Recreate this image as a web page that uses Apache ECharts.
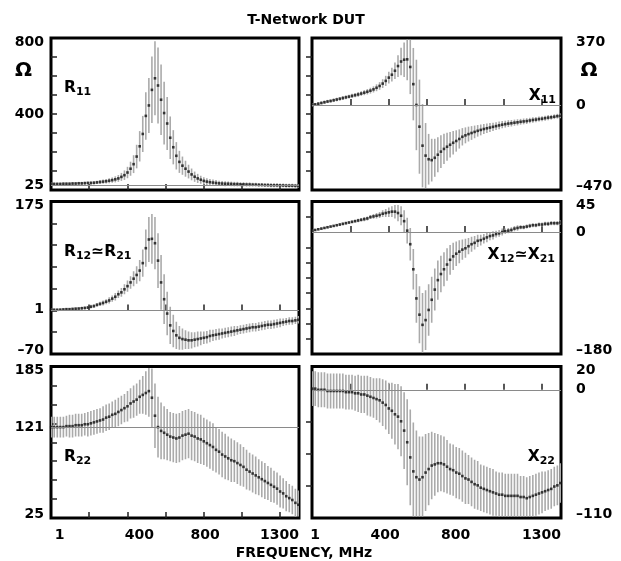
<!DOCTYPE html>
<html><head><meta charset="utf-8">
<script src="https://cdn.jsdelivr.net/npm/echarts@6/dist/echarts.min.js"></script>
<style>html,body{margin:0;padding:0;background:#fff}#c{width:621px;height:561px}</style>
</head><body><div id="c"></div>
<script>
// ---------------- data ----------------
const freqMHz = [1,17,33,49,65,81,97,113,129,145,161,177,193,209,225,241,257,273,289,305,321,337,353,369,385,401,417,433,449,465,481,497,513,529,545,561,577,593,609,625,641,657,673,689,705,721,737,753,769,785,801,817,833,849,865,881,897,913,929,945,961,977,993,1009,1025,1041,1057,1073,1089,1105,1121,1137,1153,1169,1185,1201,1217,1233,1249,1265,1281,1297];

const r11 = [32,32,32,32,33,33,33,34,34,35, 35,36,37,37,38,40,42,44,46,49, 52,56,61,69,78,92,112,136,176,230, 295,390,445,527,588,550,475,405,350,275, 225,180,148,128,112,97,82,70,61,54, 48,44,41,39,37,35,34,33,33,32, 31,31,30,30,29,29,28,28,27,27, 26,26,25,25,25,24,24,23,23,23, 22,22];
const r11Err = [7,7,7,7,7,7,7,8,8,8, 8,8,8,9,9,9,10,11,12,13, 14,16,18,21,25,30,37,47,62,80, 95,125,145,175,195,200,185,165,140,112, 90,72,58,48,42,36,31,27,24,21, 19,18,17,16,15,14,13,13,12,12, 12,12,11,11,11,11,10,10,10,10, 10,10,10,10,10,10,10,10,10,10, 10,10];

const x11 = [0,3,7,11,15,19,22,26,30,34, 38,42,46,50,54,58,63,68,73,79, 86,95,105,118,133,151,167,189,215,240, 250,252,210,115,0,-120,-225,-280,-300,-305, -292,-275,-258,-243,-231,-220,-209,-199,-188,-176, -168,-161,-155,-149,-143,-138,-133,-129,-125,-121, -117,-113,-109,-106,-103,-101,-98,-96,-93,-91, -89,-86,-83,-81,-78,-76,-73,-70,-68,-65, -62,-60];
const x11Err = [8,8,8,8,9,9,9,10,10,10, 11,11,11,12,12,13,13,14,15,16, 17,19,21,24,28,32,38,46,60,76, 95,115,150,200,250,260,230,180,140,118, 105,97,90,84,78,71,65,59,53,48, 44,41,38,35,32,30,28,26,25,23, 22,21,20,19,19,18,17,17,16,16, 16,15,15,15,14,14,14,14,13,13, 13,13];

const r12 = [1,1,1,1.2,1.6,2,2,2.4,2.8,3, 3.5,4,4.6,6,7,9,10.5,12,14,16, 19,22,26,29,34,39,45,51,57,64, 76,100,114,115,108,80,45,18,-5,-24, -33,-40,-44,-46,-47,-48,-48,-47,-46,-45, -44,-43,-41,-40,-39,-38,-37,-36,-35,-34, -33,-32,-31,-30,-29,-28,-27,-27,-26,-25, -24,-23,-23,-22,-21,-20,-19,-18,-17,-17, -16,-15];
const r12Err = [2,2,2,2,2,2,2,2,2,2, 2.5,2.5,2.5,3,3,3,3.5,4,4,5, 5,6,6,7,8,9,10,12,14,17, 22,30,36,40,42,44,44,40,35,30, 26,22,19,17,15,14,13,12,12,11, 10,10,10,9,9,9,8,8,8,8, 8,7,7,7,7,7,7,7,7,7, 7,7,7,7,7,7,6,6,6,6, 6,6];

const x12 = [2,3,4,5,6,7,8,9,10,11, 12,13,14,15,16,17,18,19,20,22, 23,24,25,27,28,29,30,30,28,24, 16,2,-18,-55,-98,-122,-137,-130,-115,-100, -85,-71,-62,-55,-48,-41,-36,-32,-29,-26, -24,-21,-18,-16,-13,-12,-10,-8,-6,-5, -3,-2,0,1,2,3,5,6,7,7, 8,9,10,10,11,11,12,12,13,13, 13,14];
const x12Err = [1.5,1.5,1.5,1.5,1.5,1.5,1.5,1.5,1.5,2, 2,2,2,2,2,2.5,2.5,3,3,3, 3.5,4,4.5,5,6,7,8,10,12,14, 16,19,24,30,36,42,47,44,38,34, 31,29,27,25,24,22,20,18,17,15, 14,12,11,10,9,8,7,7,6,6, 5,5,5,4,4,4,4,4,3,3, 3,3,3,3,3,3,3,3,3,3, 3,3];

const r22 = [121,121,121,121,121,122,122,122,123,123, 123,124,124,125,126,127,128,129,131,132, 134,135,137,139,141,143,146,148,150,153, 155,157,159,152,133,121,117,115,113,111, 110,109,110,112,113,114,112,111,109,108, 106,104,102,100,97,95,92,90,88,86, 85,83,81,79,76,74,72,70,68,66, 64,62,60,58,56,53,51,48,46,44, 41,39];
const r22Err = [11,11,11,11,11,11,12,12,12,12, 12,12,13,13,13,13,13,14,14,14, 14,15,15,15,15,16,16,17,17,18, 20,23,27,31,34,32,30,28,27,26, 26,26,26,26,26,26,26,26,26,26, 25,25,25,25,24,24,24,24,23,23, 22,22,22,21,21,20,20,20,19,19, 19,18,18,17,17,17,16,16,15,15, 15,15];

const x22 = [1,1,0,0,0,-1,-1,-1,-1,-1, -1,-2,-2,-2,-3,-3,-4,-4,-5,-6, -7,-8,-9,-11,-13,-16,-18,-21,-23,-27, -35,-45,-58,-70,-75,-77,-75,-71,-68,-65, -64,-63,-63,-64,-66,-68,-69,-71,-72,-74, -76,-77,-79,-81,-82,-84,-85,-86,-87,-88, -89,-90,-90,-91,-91,-91,-91,-91,-92,-92, -93,-92,-91,-90,-89,-88,-87,-86,-85,-83, -82,-80];
const x22Err = [15,15,15,15,15,15,15,15,15,15, 15,15,15,15,15,16,16,16,17,17, 17,18,19,20,21,22,24,26,28,30, 33,37,41,42,40,37,35,33,31,29, 27,25,24,24,23,22,22,22,22,22, 22,21,21,21,21,20,20,20,20,20, 19,19,19,19,19,19,19,19,18,18, 18,18,18,18,18,18,17,17,17,17, 17,17];

// axis ranges, tick labels, tick marks, reference lines
const freqRange = [0, 1300];
const freqTicks = [200,400,600,800,1000,1200];
const freqLabels = [1,400,800,1300];

const r11Range = [0, 800];     const r11Labels = [25,400,800];    const r11Ticks = [100,200,300,400,500,600,700]; const r11Ref = 25;
const x11Range = [-470, 370];  const x11Labels = [-470,0,370];    const x11Ticks = [265,160,55,-50,-155,-260,-365]; const x11Ref = 0;
const r12Range = [-70, 175];   const r12Labels = [-70,1,175];     const r12Ticks = [-35,0,35,70,105,140]; const r12Ref = 1;
const x12Range = [-180, 45];   const x12Labels = [-180,0,45];     const x12Ticks = [22.5,-22.5,-45,-67.5,-90,-112.5,-135,-157.5]; const x12Ref = 0;
const r22Range = [25, 185];    const r22Labels = [25,121,185];    const r22Ticks = [45,65,85,105,125,145,165]; const r22Ref = 121;
const x22Range = [-110, 20];   const x22Labels = [-110,0,20];     const x22Ticks = [-27.5,-55,-82.5]; const x22Ref = 0;

const titleText = 'T-Network DUT';
const xAxisTitle = 'FREQUENCY, MHz';
const unitText = '\u03A9';

// ---------------- layout ----------------
const FONT = "'DejaVu Sans', Verdana, sans-serif";
const cols = [{left:51, width:248}, {left:312, width:249}];
const rows = [{top:38, height:152}, {top:201.5, height:152.5}, {top:366.5, height:151.5}];

const panels = [
  {vals:r11, err:r11Err, range:r11Range, labels:r11Labels, ticks:r11Ticks, ref:r11Ref, col:0, row:0, tag:'{m|R}{s|11}'},
  {vals:x11, err:x11Err, range:x11Range, labels:x11Labels, ticks:x11Ticks, ref:x11Ref, col:1, row:0, tag:'{m|X}{s|11}'},
  {vals:r12, err:r12Err, range:r12Range, labels:r12Labels, ticks:r12Ticks, ref:r12Ref, col:0, row:1, tag:'{m|R}{s|12}{m|\u2243R}{s|21}'},
  {vals:x12, err:x12Err, range:x12Range, labels:x12Labels, ticks:x12Ticks, ref:x12Ref, col:1, row:1, tag:'{m|X}{s|12}{m|\u2243X}{s|21}'},
  {vals:r22, err:r22Err, range:r22Range, labels:r22Labels, ticks:r22Ticks, ref:r22Ref, col:0, row:2, tag:'{m|R}{s|22}'},
  {vals:x22, err:x22Err, range:x22Range, labels:x22Labels, ticks:x22Ticks, ref:x22Ref, col:1, row:2, tag:'{m|X}{s|22}'}
];
const tagPos = [
  {x:64, y:78, align:'left'}, {x:556, y:86, align:'right'},
  {x:64, y:242, align:'left'}, {x:555, y:245, align:'right'},
  {x:64, y:447, align:'left'}, {x:555, y:447, align:'right'}
];

const lbl = {fontSize:14, fontWeight:'bold', fontFamily:FONT, color:'#000'};
const xRich = {
  c:   Object.assign({}, lbl),
  a1:  Object.assign({padding:[0,0,0,17]}, lbl),
  a400:Object.assign({padding:[0,0,0,24]}, lbl),
  a800:Object.assign({padding:[0,0,0,3]}, lbl),
  b1:  Object.assign({padding:[0,0,0,6]}, lbl),
  b400:Object.assign({padding:[0,7,0,0]}, lbl),
  b800:Object.assign({padding:[0,19,0,0]}, lbl),
  end: Object.assign({padding:[0,39,0,0]}, lbl)
};
const yRich = {
  t: Object.assign({padding:[8,0,0,0]}, lbl),
  b: Object.assign({padding:[0,0,8,0]}, lbl),
  n: Object.assign({}, lbl)
};

function barRenderer(params, api) {
  const cs = params.coordSys;
  const x = api.value(0);
  const p1 = api.coord([x, api.value(1)]);
  const p2 = api.coord([x, api.value(2)]);
  const top = cs.y + 1.5, bot = cs.y + cs.height - 1.5;
  const y1 = Math.min(Math.max(p1[1], top), bot);
  const y2 = Math.min(Math.max(p2[1], top), bot);
  if (Math.abs(y1 - y2) < 0.2) return null;
  return {type:'line', shape:{x1:p1[0], y1:y1, x2:p1[0], y2:y2},
          style:{stroke:'#aaaaaa', lineWidth:1.6}};
}

const grids = [], xAxes = [], yAxes = [], series = [], graphics = [];
panels.forEach((p, i) => {
  const c = cols[p.col], r = rows[p.row];
  grids.push({left:c.left, top:r.top, width:c.width, height:r.height, show:true,
    borderColor:'#000', borderWidth:3, backgroundColor:'rgba(0,0,0,0)',
    containLabel:false, outerBoundsMode:'none'});
  const bottomRow = p.row === 2;
  xAxes.push({type:'value', gridIndex:i, min:freqRange[0], max:freqRange[1], position:'bottom',
    axisLine:{show:false}, splitLine:{show:false},
    axisTick:{show:true, inside:true, length:6, customValues:freqTicks, lineStyle:{color:'#222', width:1.5}},
    axisLabel:{show:bottomRow, customValues:freqLabels, margin:10, alignMinLabel:'center', alignMaxLabel:'center',
      rich:xRich,
      formatter:(v) => {
        const key = p.col === 0
          ? (v === 1 ? 'a1' : v === 400 ? 'a400' : v === 800 ? 'a800' : 'end')
          : (v === 1 ? 'b1' : v === 400 ? 'b400' : v === 800 ? 'b800' : 'end');
        return '{' + key + '|' + v + '}';
      }}});
  const left = p.col === 0;
  yAxes.push({type:'value', gridIndex:i, min:p.range[0], max:p.range[1], position:left ? 'left' : 'right',
    axisLine:{show:false}, splitLine:{show:false},
    axisTick:{show:true, inside:true, length:6, customValues:p.ticks, lineStyle:{color:'#222', width:1.5}},
    axisLabel:{show:true, customValues:p.labels, margin:left ? 7 : 15, align:left ? 'right' : 'left',
      rich:yRich,
      formatter:(v) => {
        const txt = String(v).replace('-', '\u2013');
        const key = v === p.range[1] ? 't' : (v === p.range[0] ? 'b' : 'n');
        return '{' + key + '|' + txt + '}';
      }}});
  series.push({type:'custom', xAxisIndex:i, yAxisIndex:i, silent:true, clip:true, z:2,
    renderItem:barRenderer, encode:{x:0, y:[1,2]},
    data:freqMHz.map((f, k) => [f, p.vals[k] - p.err[k], p.vals[k] + p.err[k]])});
  series.push({type:'scatter', xAxisIndex:i, yAxisIndex:i, silent:true, z:4,
    symbol:'rect', symbolSize:2.6, itemStyle:{color:'#111'},
    data:freqMHz.map((f, k) => [f, p.vals[k]]),
    markLine:{silent:true, symbol:['none','none'], label:{show:false}, animation:false,
      lineStyle:{color:'#8a8a8a', width:1, type:'solid'}, emphasis:{disabled:true},
      data:[{yAxis:p.ref}]}});
  const tp = tagPos[i];
  graphics.push({type:'text', x:tp.x, y:tp.y, z:10, silent:true,
    style:{text:p.tag, align:tp.align, verticalAlign:'top',
      rich:{m:{fontSize:15.5, fontWeight:'bold', fontFamily:FONT, fill:'#000', lineHeight:20},
            s:{fontSize:11, fontWeight:'bold', fontFamily:FONT, fill:'#000', lineHeight:10, padding:[9,0,0,0]}}}});
});

graphics.push({type:'text', x:306, y:20, silent:true,
  style:{text:titleText, align:'center', verticalAlign:'middle', fontSize:14, fontWeight:'bold', fontFamily:FONT, fill:'#000'}});
graphics.push({type:'text', x:304, y:553, silent:true,
  style:{text:xAxisTitle, align:'center', verticalAlign:'middle', fontSize:14, fontWeight:'bold', fontFamily:FONT, fill:'#000'}});
graphics.push({type:'text', x:23.5, y:71, silent:true,
  style:{text:unitText, align:'center', verticalAlign:'middle', fontSize:20, fontWeight:'bold', fontFamily:FONT, fill:'#000'}});
graphics.push({type:'text', x:589, y:71, silent:true,
  style:{text:unitText, align:'center', verticalAlign:'middle', fontSize:20, fontWeight:'bold', fontFamily:FONT, fill:'#000'}});

const chart = echarts.init(document.getElementById('c'), null, {renderer:'canvas'});
chart.setOption({
  animation:false,
  backgroundColor:'#fff',
  grid:grids, xAxis:xAxes, yAxis:yAxes, series:series, graphic:graphics
});
</script>
</body></html>
